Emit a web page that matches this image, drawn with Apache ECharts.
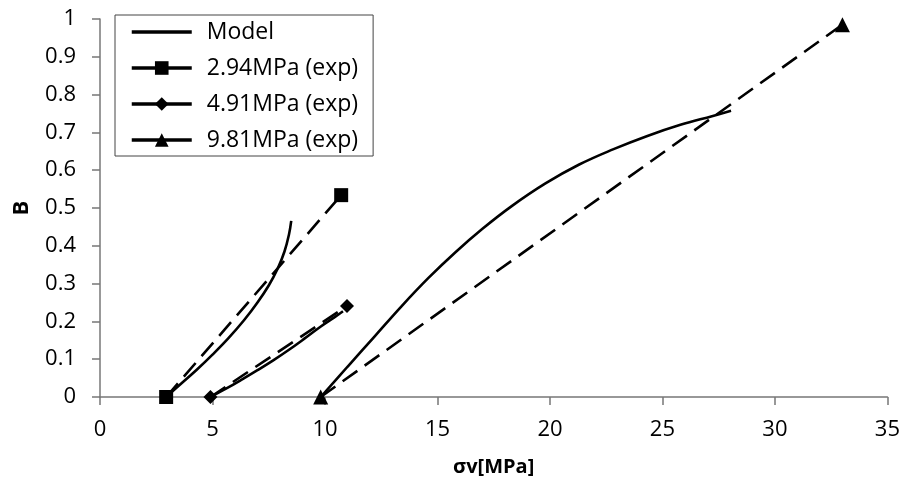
<!DOCTYPE html>
<html>
<head>
<meta charset="utf-8">
<script src="https://cdn.jsdelivr.net/npm/echarts@6/dist/echarts.min.js"></script>
<style>html,body{margin:0;padding:0;background:#fff}#c{width:903px;height:483px}</style>
</head>
<body>
<div id="c"></div>
<script>
// X tick labels / ranges
const xTicks = [0, 5, 10, 15, 20, 25, 30, 35];
const yTicks = [0, 0.1, 0.2, 0.3, 0.4, 0.5, 0.6, 0.7, 0.8, 0.9, 1];

// Model curves [σv, B]
const model294 = [[2.94,0],[3.6,0.035],[4.3,0.072],[5.0,0.112],[5.7,0.155],[6.4,0.203],[7.0,0.25],[7.5,0.295],[7.9,0.34],[8.2,0.385],[8.4,0.43],[8.5,0.466]];
const model491 = [[4.91,0],[5.6,0.022],[6.3,0.046],[7.0,0.071],[7.7,0.097],[8.4,0.125],[9.1,0.155],[9.8,0.186],[10.4,0.21],[10.8,0.227]];
const model981 = [[9.81,0],[11.0,0.08],[12.2,0.16],[13.4,0.24],[14.6,0.315],[15.8,0.383],[17.0,0.445],[18.3,0.505],[19.8,0.565],[21.3,0.615],[22.8,0.655],[24.3,0.69],[25.8,0.72],[27.2,0.743],[28.05,0.757]];

// Experimental points [σv, B]
const exp294 = [[2.94,0],[10.72,0.534]];
const exp491 = [[4.91,0],[10.98,0.241]];
const exp981 = [[9.81,0],[33.0,0.985]];

const FONT = '"Open Sans", sans-serif';
const modelStyle = {color:'#000', width:2.6, type:'solid'};
const dashStyle = {color:'#000', width:2.6, type:[18,9]};

function modelSeries(data){
  return {name:'Model', type:'line', data:data, showSymbol:false, symbol:'none',
    smooth:0.4, lineStyle:modelStyle, itemStyle:{color:'#000'}, z:3, animation:false};
}
function expSeries(name, data, symbol, size){
  return {name:name, type:'line', data:data, symbol:symbol, symbolSize:size,
    lineStyle:dashStyle, itemStyle:{color:'#000'}, z:4, animation:false};
}

const legendLine = {type:'solid', width:3.5, color:'#000'};

const chart = echarts.init(document.getElementById('c'), null, {renderer:'canvas'});
chart.setOption({
  animation:false,
  backgroundColor:'#fff',
  textStyle:{fontFamily:FONT},
  grid:{left:100, right:15, top:19, bottom:86, containLabel:false},
  legend:{
    orient:'vertical', left:115, top:15,
    data:[
      {name:'Model', itemStyle:{opacity:0}, lineStyle:legendLine},
      {name:'2.94MPa (exp)', lineStyle:legendLine},
      {name:'4.91MPa (exp)', lineStyle:legendLine},
      {name:'9.81MPa (exp)', lineStyle:legendLine}
    ],
    itemWidth:60, itemHeight:17, itemGap:12,
    padding:[5,15,4,15],
    borderColor:'#444', borderWidth:1, backgroundColor:'#fff',
    textStyle:{fontFamily:FONT, fontSize:23, color:'#000', lineHeight:24, padding:[0,0,0,10]}
  },
  xAxis:{
    type:'value', min:xTicks[0], max:xTicks[xTicks.length-1], interval:5,
    name:'σv[MPa]', nameLocation:'middle', nameGap:60,
    nameTextStyle:{fontFamily:FONT, fontSize:20, fontWeight:'bold', color:'#000'},
    axisLine:{show:true, onZero:false, lineStyle:{color:'#777', width:1.5}},
    axisTick:{show:true, inside:false, length:8, lineStyle:{color:'#777', width:1.5}},
    axisLabel:{fontFamily:FONT, fontSize:22, color:'#000', margin:22},
    splitLine:{show:false}
  },
  yAxis:{
    type:'value', min:yTicks[0], max:yTicks[yTicks.length-1], interval:0.1,
    name:'B', nameLocation:'middle', nameGap:67, nameRotate:90,
    nameTextStyle:{fontFamily:FONT, fontSize:22, fontWeight:'bold', color:'#000'},
    axisLine:{show:true, onZero:false, lineStyle:{color:'#777', width:1.5}},
    axisTick:{show:true, inside:false, length:8, lineStyle:{color:'#777', width:1.5}},
    axisLabel:{fontFamily:FONT, fontSize:22, color:'#000', margin:24,
      formatter:function(v){return String(Math.round(v*10)/10);}},
    splitLine:{show:false}
  },
  series:[
    modelSeries(model294),
    modelSeries(model491),
    modelSeries(model981),
    expSeries('2.94MPa (exp)', exp294, 'rect', 14),
    expSeries('4.91MPa (exp)', exp491, 'diamond', 14),
    expSeries('9.81MPa (exp)', exp981, 'triangle', 15)
  ]
});
</script>
</body>
</html>
